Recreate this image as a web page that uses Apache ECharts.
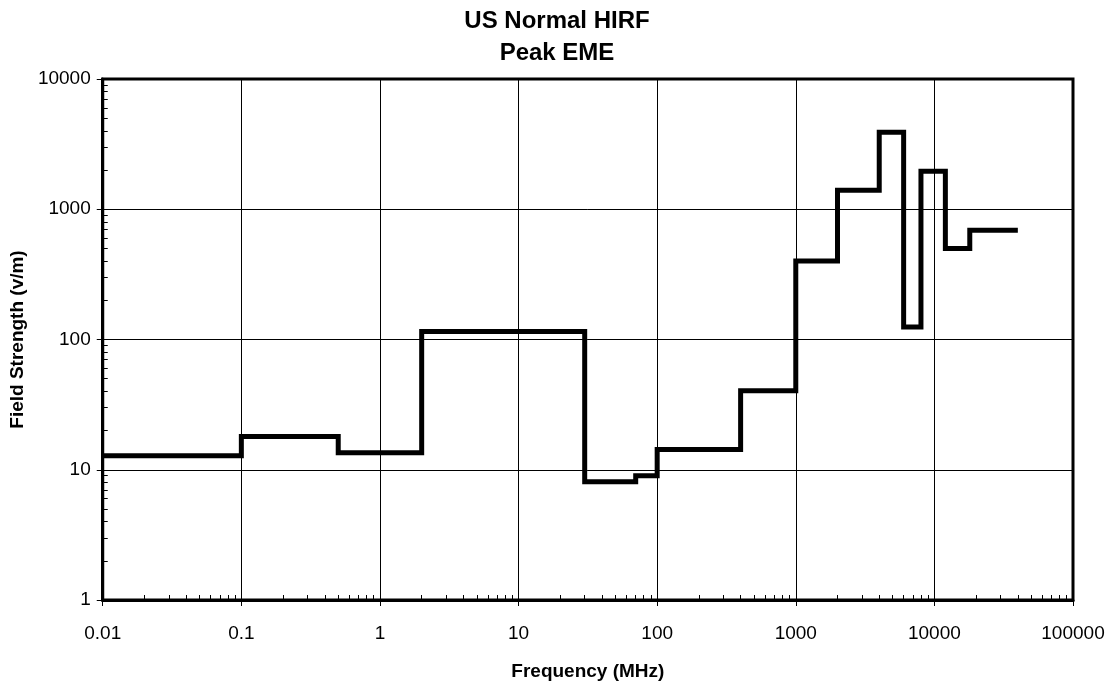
<!DOCTYPE html>
<html>
<head>
<meta charset="utf-8">
<script src="https://cdn.jsdelivr.net/npm/echarts@6/dist/echarts.min.js"></script>
<style>html,body{margin:0;padding:0;background:#fff}#c{width:1114px;height:687px}</style>
</head>
<body>
<div id="c"></div>
<script>
// Frequency breakpoints (MHz) where each level starts, and the level (V/m)
var freqStart = [0.01, 0.1, 0.5, 2, 30, 70, 100, 400, 1000, 2000, 4000, 6000, 8000, 12000, 18000, 40000];
var fieldLevel = [12.8, 18, 13.5, 115, 8.1, 9, 14.3, 40.5, 400, 1400, 3900, 125, 1960, 500, 690, 690];
var xTicks = ['0.01', '0.1', '1', '10', '100', '1000', '10000', '100000'];
var yTicks = ['1', '10', '100', '1000', '10000'];

var seriesData = freqStart.map(function (f, i) { return [f, fieldLevel[i]]; });

var chart = echarts.init(document.getElementById('c'));
var font = '"Liberation Sans", Arial, sans-serif';
function fmt(list) {
  return function (v) { var s = String(+(+v).toPrecision(6)); return list.indexOf(s) >= 0 ? s : ''; };
}
var minorOnly = {
  axisLine: { show: false }, axisLabel: { show: false }, splitLine: { show: false },
  axisTick: { show: false, inside: true },
  minorTick: { show: true, splitNumber: 9, length: 5, lineStyle: { color: '#000', width: 1 } },
  minorSplitLine: { show: false }
};
chart.setOption({
  animation: false,
  backgroundColor: '#fff',
  title: [
    { text: 'US Normal HIRF', left: 'center', top: 4,
      textStyle: { fontFamily: font, fontSize: 24, fontWeight: 'bold', color: '#000' } },
    { text: 'Peak EME', left: 'center', top: 36,
      textStyle: { fontFamily: font, fontSize: 24, fontWeight: 'bold', color: '#000' } }
  ],
  grid: { left: 101, right: 41, top: 79, bottom: 87, show: true, borderColor: '#000', borderWidth: 3, backgroundColor: 'transparent' },
  xAxis: [{
    type: 'log', logBase: 10, min: 0.01, max: 100000,
    name: 'Frequency (MHz)', nameLocation: 'middle', nameGap: 62,
    nameTextStyle: { fontFamily: font, fontSize: 19, fontWeight: 'bold', color: '#000' },
    axisLine: { show: true, lineStyle: { color: '#000', width: 3 } },
    axisTick: { show: true, inside: false, length: 6, lineStyle: { color: '#000', width: 1 } },
    minorTick: { show: false },
    axisLabel: { fontFamily: font, fontSize: 19, color: '#000', margin: 24, formatter: fmt(xTicks) },
    splitLine: { show: true, lineStyle: { color: '#000', width: 1 } }
  }, Object.assign({ type: 'log', logBase: 10, min: 0.01, max: 100000, position: 'bottom' }, minorOnly)],
  yAxis: [{
    type: 'log', logBase: 10, min: 1, max: 10000,
    name: 'Field Strength (v/m)', nameLocation: 'middle', nameGap: 72,
    nameTextStyle: { fontFamily: font, fontSize: 19, fontWeight: 'bold', color: '#000' },
    axisLine: { show: true, lineStyle: { color: '#000', width: 3 } },
    axisTick: { show: true, inside: false, length: 6, lineStyle: { color: '#000', width: 1 } },
    minorTick: { show: false },
    axisLabel: { fontFamily: font, fontSize: 19, color: '#000', margin: 12, formatter: fmt(yTicks) },
    splitLine: { show: true, lineStyle: { color: '#000', width: 1 } }
  }, Object.assign({ type: 'log', logBase: 10, min: 1, max: 10000, position: 'left' }, minorOnly)],
  series: [{
    type: 'line', step: 'end', data: seriesData, showSymbol: false, symbol: 'none',
    lineStyle: { color: '#000', width: 5, join: 'miter' }
  }]
});
</script>
</body>
</html>
